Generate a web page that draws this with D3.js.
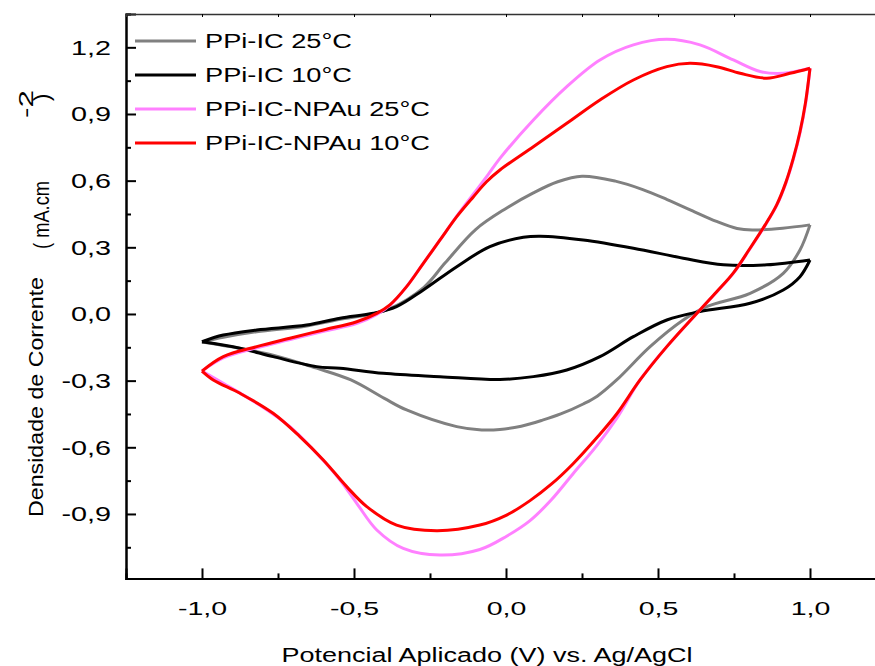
<!DOCTYPE html>
<html>
<head>
<meta charset="utf-8">
<script src="https://cdn.jsdelivr.net/npm/d3@7"></script>
<style>
  body { margin: 0; background: #fff; }
  text { font-family: Arial, "Liberation Sans", sans-serif; fill: #000; }
</style>
</head>
<body>
<div id="graph"></div>
<script>
// tick values
var xMajor = [-1.0, -0.5, 0.0, 0.5, 1.0];
var xMinor = [-0.75, -0.25, 0.25, 0.75];
var yMajor = [-0.9, -0.6, -0.3, 0.0, 0.3, 0.6, 0.9, 1.2];
var yMinor = [-1.05, -0.75, -0.45, -0.15, 0.15, 0.45, 0.75, 1.05];

var seriesNames = ["PPi-IC 25°C", "PPi-IC 10°C", "PPi-IC-NPAu 25°C", "PPi-IC-NPAu 10°C"];
var seriesColors = ["#808080", "#000000", "#ff80ff", "#ff0000"];

// [potential V, current density mA.cm-2], forward scan then reverse scan
var ppi25Fwd = [[-1.0,-0.126],[-0.93,-0.105],[-0.82,-0.080],[-0.66,-0.055],[-0.55,-0.025],[-0.44,0.000],[-0.38,0.025],
  [-0.27,0.12],[-0.2,0.23],[-0.1,0.38],[0.0,0.475],[0.09,0.545],[0.17,0.595],[0.25,0.62],[0.36,0.598],[0.45,0.56],
  [0.53,0.515],[0.62,0.46],[0.69,0.418],[0.76,0.385],[0.81,0.378],[0.91,0.386],[1.0,0.401]];
var ppi25Rev = [[1.0,0.401],[0.967,0.288],[0.912,0.183],[0.803,0.093],[0.66,0.033],[0.583,-0.027],[0.474,-0.147],
  [0.364,-0.297],[0.30,-0.37],[0.254,-0.405],[0.18,-0.45],[0.12,-0.478],[0.05,-0.505],[-0.02,-0.52],[-0.08,-0.522],
  [-0.162,-0.507],[-0.327,-0.432],[-0.40,-0.38],[-0.51,-0.297],[-0.623,-0.244],[-0.766,-0.185],[-0.908,-0.147],[-1.0,-0.126]];

var ppi10Fwd = [[-1.0,-0.125],[-0.93,-0.095],[-0.82,-0.072],[-0.656,-0.050],[-0.546,-0.019],[-0.436,0.003],[-0.36,0.033],
  [-0.272,0.108],[-0.162,0.213],[-0.053,0.303],[0.057,0.345],[0.112,0.350],[0.254,0.333],[0.419,0.296],[0.583,0.251],
  [0.715,0.221],[0.858,0.221],[1.0,0.243]];
var ppi10Rev = [[1.0,0.243],[0.967,0.168],[0.912,0.108],[0.803,0.048],[0.638,0.011],[0.529,-0.027],[0.419,-0.102],
  [0.309,-0.192],[0.200,-0.252],[0.090,-0.282],[-0.02,-0.295],[-0.217,-0.282],[-0.404,-0.267],[-0.546,-0.244],
  [-0.623,-0.237],[-0.766,-0.192],[-0.875,-0.154],[-1.0,-0.125]];

var npau25Fwd = [[-1.0,-0.257],[-0.93,-0.198],[-0.82,-0.152],[-0.71,-0.115],[-0.60,-0.078],[-0.49,-0.042],[-0.425,-0.002],
  [-0.38,0.041],[-0.327,0.123],[-0.272,0.228],[-0.217,0.333],[-0.162,0.440],[-0.107,0.540],[-0.06,0.625],[-0.02,0.700],
  [0.09,0.873],[0.2,1.023],[0.309,1.143],[0.419,1.211],[0.529,1.236],[0.638,1.211],[0.748,1.143],[0.836,1.091],
  [0.912,1.083],[1.0,1.106]];
var npau25Rev = [[1.0,1.106],[0.986,0.95],[0.968,0.82],[0.946,0.70],[0.921,0.59],[0.891,0.49],[0.853,0.40],
  [0.801,0.29],[0.749,0.185],[0.694,0.10],[0.638,0.018],[0.529,-0.147],[0.441,-0.297],[0.364,-0.47],[0.30,-0.59],
  [0.22,-0.72],[0.15,-0.835],[0.079,-0.93],[0.002,-1.0],[-0.086,-1.06],[-0.217,-1.085],[-0.338,-1.055],[-0.425,-0.972],
  [-0.491,-0.852],[-0.546,-0.747],[-0.623,-0.627],[-0.711,-0.507],[-0.82,-0.402],[-0.93,-0.312],[-1.0,-0.257]];

var npau10Fwd = [[-1.0,-0.257],[-0.93,-0.192],[-0.82,-0.147],[-0.711,-0.109],[-0.601,-0.072],[-0.491,-0.035],
  [-0.425,0.003],[-0.382,0.041],[-0.327,0.123],[-0.272,0.228],[-0.217,0.333],[-0.162,0.438],[-0.107,0.528],
  [-0.064,0.595],[-0.02,0.648],[0.09,0.753],[0.2,0.858],[0.309,0.963],[0.419,1.053],[0.529,1.113],[0.605,1.128],
  [0.693,1.113],[0.77,1.083],[0.858,1.061],[0.934,1.083],[1.0,1.106]];
var npau10Rev = [[1.0,1.106],[0.985,0.95],[0.967,0.82],[0.945,0.70],[0.92,0.59],[0.89,0.49],[0.852,0.40],
  [0.80,0.29],[0.748,0.185],[0.693,0.10],[0.638,0.018],[0.529,-0.147],[0.441,-0.297],[0.364,-0.45],[0.30,-0.555],
  [0.22,-0.675],[0.15,-0.765],[0.079,-0.84],[0.002,-0.905],[-0.086,-0.950],[-0.228,-0.975],[-0.36,-0.950],
  [-0.458,-0.867],[-0.524,-0.777],[-0.601,-0.657],[-0.678,-0.552],[-0.766,-0.447],[-0.875,-0.357],[-0.963,-0.297],
  [-1.0,-0.257]];

var seriesData = [
  [ppi25Fwd, ppi25Rev],
  [ppi10Fwd, ppi10Rev],
  [npau25Fwd, npau25Rev],
  [npau10Fwd, npau10Rev]
];

var width = 875;
var height = 666;

var svg = d3.select("#graph")
  .append("svg")
  .attr("width", width)
  .attr("height", height);

var x = d3.scaleLinear().domain([-1.25, 1.25]).range([126, 886]);
var y = d3.scaleLinear().domain([-1.19, 1.35]).range([578.4, 14]);

function fmt(d) { return d.toFixed(1).replace(".", ","); }

// stretch text horizontally like the original export
function stretch(sel, k) {
  sel.each(function () {
    var w = this.getComputedTextLength();
    d3.select(this).attr("textLength", w * k).attr("lengthAdjust", "spacingAndGlyphs");
  });
}

// curves
var line = d3.line()
  .x(function (d) { return x(d[0]); })
  .y(function (d) { return y(d[1]); })
  .curve(d3.curveCatmullRom.alpha(0.5));

seriesData.forEach(function (branches, i) {
  branches.forEach(function (b) {
    svg.append("path")
      .attr("d", line(b))
      .attr("fill", "none")
      .attr("stroke", seriesColors[i])
      .attr("stroke-width", 3)
      .attr("stroke-linejoin", "miter");
  });
});

// axes
var xAxis = svg.append("g")
  .attr("transform", "translate(0," + y(-1.19) + ")")
  .call(d3.axisBottom(x).tickValues(xMajor).tickSize(-10).tickPadding(23).tickFormat(fmt));
svg.append("g")
  .attr("transform", "translate(0," + y(-1.19) + ")")
  .call(d3.axisBottom(x).tickValues(xMinor).tickSize(-5).tickFormat(""));

var yAxis = svg.append("g")
  .attr("transform", "translate(" + x(-1.25) + ",0)")
  .call(d3.axisLeft(y).tickValues(yMajor).tickSize(-10).tickPadding(15).tickFormat(fmt));
svg.append("g")
  .attr("transform", "translate(" + x(-1.25) + ",0)")
  .call(d3.axisLeft(y).tickValues(yMinor).tickSize(-5).tickFormat(""));

var topAxis = svg.append("g")
  .attr("transform", "translate(0," + y(1.35) + ")")
  .call(d3.axisTop(x).tickValues(xMajor.concat(xMinor)).tickSize(-3).tickFormat(""));

svg.selectAll(".domain").attr("stroke-width", 2).attr("stroke", "#000");
svg.selectAll(".tick line").attr("stroke-width", 2).attr("stroke", "#000");
topAxis.select(".domain").attr("stroke-width", 1.5).attr("stroke", "#333");
topAxis.selectAll(".tick line").attr("stroke-width", 1);

xAxis.selectAll("text").attr("font-size", 19).attr("font-family", "Arial, 'Liberation Sans', sans-serif").attr("fill", "#000");
yAxis.selectAll("text").attr("font-size", 21).attr("font-family", "Arial, 'Liberation Sans', sans-serif").attr("fill", "#000");
stretch(xAxis.selectAll("text"), 1.5);
stretch(yAxis.selectAll("text"), 1.37);

// axis titles
svg.append("text")
  .attr("x", 487)
  .attr("y", 662)
  .attr("text-anchor", "middle")
  .attr("font-size", 20)
  .attr("textLength", 411)
  .attr("lengthAdjust", "spacingAndGlyphs")
  .text("Potencial Aplicado (V) vs. Ag/AgCl");

svg.append("text")
  .attr("transform", "translate(43,397) rotate(-90)")
  .attr("text-anchor", "middle")
  .attr("font-size", 21)
  .attr("textLength", 240)
  .attr("lengthAdjust", "spacingAndGlyphs")
  .text("Densidade de Corrente");

svg.append("text")
  .attr("transform", "translate(49,249) rotate(-90)")
  .attr("font-size", 22)
  .attr("textLength", 68)
  .attr("lengthAdjust", "spacingAndGlyphs")
  .text("( mA.cm");
svg.append("text")
  .attr("transform", "translate(33,118) rotate(-90)")
  .attr("font-size", 21)
  .attr("textLength", 28)
  .attr("lengthAdjust", "spacingAndGlyphs")
  .text("-2");
svg.append("text")
  .attr("transform", "translate(49,101) rotate(-90)")
  .attr("font-size", 22)
  .text(")");

// legend
var legend = svg.append("g");
var legendY = [41, 75, 109, 143];
seriesNames.forEach(function (name, i) {
  legend.append("line")
    .attr("x1", 135).attr("x2", 196)
    .attr("y1", legendY[i]).attr("y2", legendY[i])
    .attr("stroke", seriesColors[i])
    .attr("stroke-width", 3);
  legend.append("text")
    .attr("x", 205)
    .attr("y", legendY[i])
    .attr("dy", "0.35em")
    .attr("font-size", 20)
    .text(name);
});
stretch(legend.selectAll("text"), 1.36);
</script>
</body>
</html>
